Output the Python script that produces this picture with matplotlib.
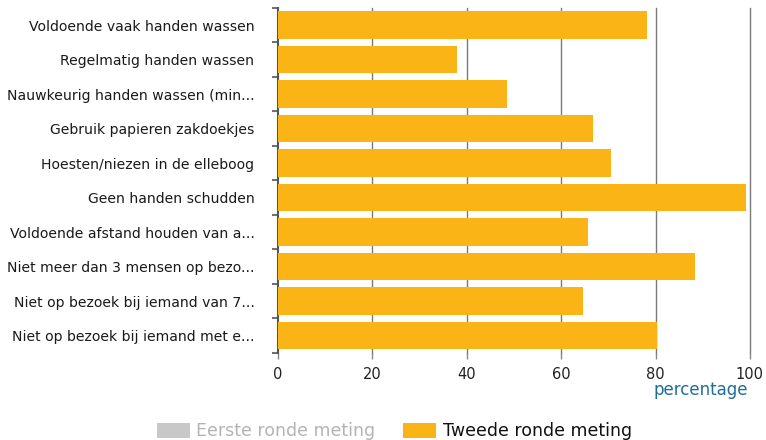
import numpy as np
import matplotlib
matplotlib.use("Agg")
import matplotlib.pyplot as plt
from matplotlib.patches import Patch

categories = [
    "Voldoende vaak handen wassen",
    "Regelmatig handen wassen",
    "Nauwkeurig handen wassen (min...",
    "Gebruik papieren zakdoekjes",
    "Hoesten/niezen in de elleboog",
    "Geen handen schudden",
    "Voldoende afstand houden van a...",
    "Niet meer dan 3 mensen op bezo...",
    "Niet op bezoek bij iemand van 7...",
    "Niet op bezoek bij iemand met e...",
]
tweede_ronde = [78.2, 37.9, 48.6, 66.8, 70.5, 99.1, 65.6, 88.3, 64.6, 80.3]
series_names = ["Eerste ronde meting", "Tweede ronde meting"]
xticks = [0, 20, 40, 60, 80, 100]

orange = "#FAB415"
grey_patch = "#c8c8c8"
axis_col = "#555555"

plt.rcParams["font.family"] = "DejaVu Sans"

fig = plt.figure(figsize=(7.66, 4.40), dpi=100)
ax = fig.add_axes([0.363, 0.198, 0.616, 0.784])

y = np.arange(len(categories))
ax.barh(y, tweede_ronde, height=0.8, color=orange, zorder=3)

ax.set_xlim(0, 100)
ax.set_ylim(len(categories) - 0.5, -0.5)

# vertical grid lines
for v in xticks[1:]:
    ax.axvline(v, color="#7a7a7a", lw=1.0, zorder=1, clip_on=False)

ax.set_xticks(xticks)
ax.set_xticklabels([str(v) for v in xticks], fontsize=10.5, color="#222222")
ax.tick_params(axis="x", length=4, width=1, color="#888888", pad=6)

ax.set_yticks(y)
ax.set_yticklabels(categories, fontsize=10.1, color="#1a1a1a")
ax.tick_params(axis="y", which="major", length=0, pad=17)
ax.set_yticks(np.arange(-0.5, len(categories) + 0.5, 1), minor=True)
ax.tick_params(axis="y", which="minor", length=4, width=1.2, color=axis_col)

for s in ["top", "right", "bottom"]:
    ax.spines[s].set_visible(False)
ax.spines["left"].set_color(axis_col)
ax.spines["left"].set_linewidth(1.5)

fig.text(0.977, 0.113, "percentage", ha="right", va="center",
         fontsize=12, color="#1f6e9a")

handles = [Patch(facecolor=grey_patch, edgecolor="none"),
           Patch(facecolor=orange, edgecolor="none")]
leg = fig.legend(handles, series_names, loc="center", bbox_to_anchor=(0.515, 0.02),
                 ncol=2, frameon=False, fontsize=12.5, handlelength=1.9,
                 handleheight=0.95, handletextpad=0.4, columnspacing=1.6)
leg.get_texts()[0].set_color("#b4b4b4")
leg.get_texts()[1].set_color("#111111")

fig.savefig("out.png", dpi=100)
